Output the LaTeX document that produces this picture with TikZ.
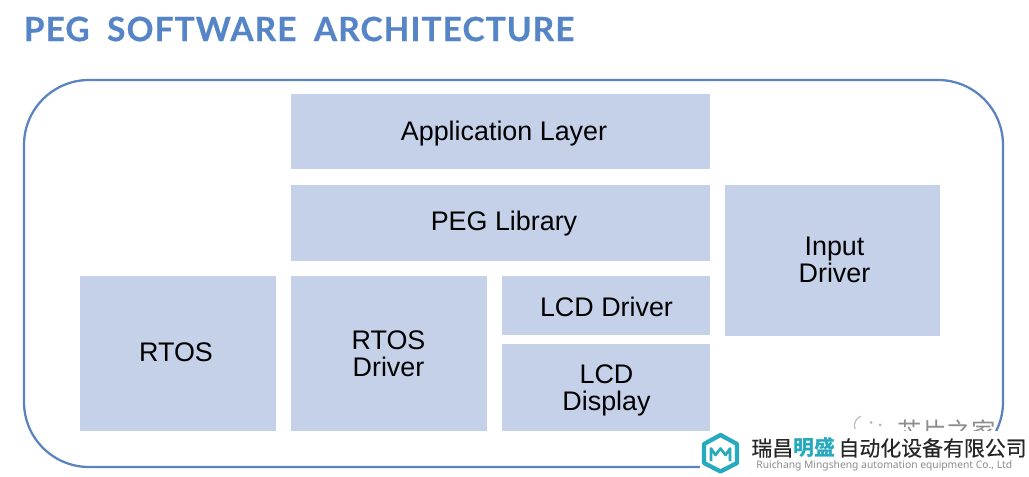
\documentclass[tikz,border=0pt]{standalone}
\usepackage{fontspec}
\setmainfont{Liberation Sans}
\newfontfamily\titlefont[LetterSpace=3.3,WordSpace=1.9,BoldFeatures={FakeBold=0.5}]{Lato}
\newfontfamily\cjkfont{Noto Sans CJK SC}
\newfontfamily\cjkmedium[FakeBold=0.3]{Noto Sans CJK SC}
\newfontfamily\logofont{Noto Sans}
\usepackage{xcolor}
\usetikzlibrary{positioning}
\usetikzlibrary{calc}
\definecolor{layerfill}{HTML}{C5D1E9}
\definecolor{framecolor}{HTML}{5B84BF}
\definecolor{titlecolor}{HTML}{5585C6}
\definecolor{logoteal}{HTML}{27A9BE}
\tikzset{
	layer/.style={fill=layerfill},
	layertext/.style={inner sep=0pt, align=center, font=\fontsize{15.3pt}{15.4pt}\selectfont},
}
\begin{document}
\begin{tikzpicture}
\useasboundingbox (0,0) rectangle (20.58,-9.52);

% Title
\node[anchor=west, inner sep=0pt, text=titlecolor, font=\titlefont\bfseries\fontsize{19pt}{22pt}\selectfont] (title) at (0.47,-0.58) {PEG SOFTWARE ARCHITECTURE};

% Outer frame
\draw[color=framecolor, line width=1.3pt, rounded corners=1.3cm] (0.48,-1.6) rectangle (20.06,-9.34);

% top layers
\fill[layer] (5.82,-1.88) rectangle ++(8.38cm,-1.5cm);
\fill[layer] (5.82,-3.7) rectangle ++(8.38cm,-1.52cm);
\fill[layer] (14.5,-3.7) rectangle ++(4.3cm,-3.02cm);
\node[layertext] (app) at (10.08,-2.68) {Application Layer};
\node[layertext] (peg) at (10.08,-4.48) {PEG Library};
\node[layertext] (input) at (16.69,-5.19) {Input\\Driver};

% bottom layers
\fill[layer] (1.6,-5.52) rectangle ++(3.92cm,-3.1cm);
\fill[layer] (5.82,-5.52) rectangle ++(3.92cm,-3.1cm);
\fill[layer] (10.04,-5.52) rectangle ++(4.16cm,-1.18cm);
\fill[layer] (10.04,-6.88) rectangle ++(4.16cm,-1.74cm);
\node[layertext] (rtos) at (3.52,-7.05) {RTOS};
\node[layertext] (rtosdrv) at (7.77,-7.07) {RTOS\\Driver};
\node[layertext] (lcddrv) at (12.13,-6.13) {LCD Driver};
\node[layertext] (lcd) at (12.13,-7.81) {LCD\\Display};

% Watermark, cut by the banner below it
\draw[color=black!25, line width=0.7pt] (17.1,-8.58) arc (200:110:0.2);
\fill[black!30] (17.42,-8.45) circle (0.03);
\fill[black!30] (17.6,-8.5) circle (0.03);
\node[anchor=west, inner sep=0pt, text=black!45, font=\cjkfont\fontsize{13.9pt}{14pt}\selectfont] (mark) at (17.95,-8.62) {芯片之家};

% Banner
\fill[white] (14,-8.62) rectangle (20.58,-9.52);
\draw[color=logoteal, line width=2.4pt, line join=round] (14.41,-8.7) -- (14.74,-8.88) -- (14.74,-9.26) -- (14.41,-9.43) -- (14.08,-9.26) -- (14.08,-8.88) -- cycle;
\draw[color=logoteal, line width=1.5pt, line join=round] (14.22,-9.22) -- (14.22,-8.97) -- (14.31,-9.1) -- (14.41,-8.97) -- (14.51,-9.1) -- (14.6,-8.97) -- (14.6,-9.22);
\node[anchor=west, inner sep=0pt, font=\cjkmedium\fontsize{11.9pt}{13pt}\selectfont, text=black!85] (company) at (15.02,-8.96) {瑞昌\textcolor{logoteal}{\cjkfont\bfseries 明盛}\,自动化设备有限公司};
\node[anchor=west, inner sep=0pt, text=black!45, font=\logofont\fontsize{5.85pt}{8pt}\selectfont] (companyen) at (15.12,-9.32) {Ruichang Mingsheng automation equipment Co., Ltd};
\end{tikzpicture}
\end{document}
